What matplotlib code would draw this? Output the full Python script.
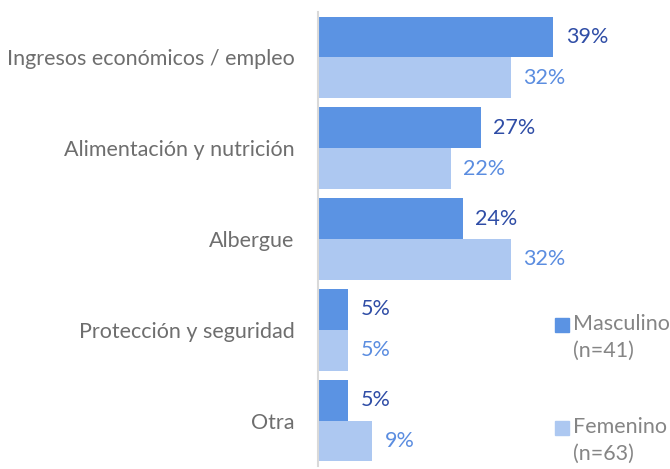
import numpy as np
import matplotlib.pyplot as plt
from matplotlib.patches import Rectangle

plt.rcParams['font.family'] = ['Lato', 'DejaVu Sans']

# data
categories = ['Ingresos económicos / empleo', 'Alimentación y nutrición',
              'Albergue', 'Protección y seguridad', 'Otra']
masculino = [39, 27, 24, 5, 5]
femenino = [32, 22, 32, 5, 9]
legend_labels = ['Masculino\n(n=41)', 'Femenino\n(n=63)']

c_masc = '#5B93E3'
c_fem = '#ADC8F1'
t_masc = '#2F4DA6'
t_fem = '#5B8DE0'
gray = '#6E6E6E'

fig = plt.figure(figsize=(6.7, 4.69), dpi=100)
ax = fig.add_axes([318 / 670, 3 / 469, 352 / 670, 454 / 469])

y = np.arange(len(categories))
h = 0.45
ax.barh(y - h / 2, masculino, height=h, color=c_masc)
ax.barh(y + h / 2, femenino, height=h, color=c_fem)

for i in range(len(categories)):
    ax.annotate(f'{masculino[i]}%', (masculino[i], y[i] - h / 2), xytext=(9, 0),
                textcoords='offset points', va='center', ha='left',
                fontsize=15.5, color=t_masc)
    ax.annotate(f'{femenino[i]}%', (femenino[i], y[i] + h / 2), xytext=(9, 0),
                textcoords='offset points', va='center', ha='left',
                fontsize=15.5, color=t_fem)

ax.set_ylim(len(categories) - 0.5, -0.5)
ax.set_xlim(0, 352 / 6.03)
ax.set_yticks(y)
ax.set_yticklabels(categories, fontsize=15.5, color=gray)
ax.tick_params(axis='y', length=0, pad=17)
ax.set_xticks([])
for s in ['top', 'right', 'bottom']:
    ax.spines[s].set_visible(False)
ax.spines['left'].set_color('#D9D9D9')
ax.spines['left'].set_linewidth(1.5)

# legend on the right
for k, (lab, col) in enumerate(zip(legend_labels, [c_masc, c_fem])):
    ytop = 1 - (318 + k * 103) / 469
    fig.patches.append(Rectangle((555 / 670, ytop - 14 / 469), 14 / 670, 14 / 469,
                                 transform=fig.transFigure, color=col))
    fig.text(573 / 670, ytop + 4 / 469, lab, fontsize=15.5, color='#858585',
             va='top', ha='left', linespacing=1.4)

fig.savefig('out.png', dpi=100)
